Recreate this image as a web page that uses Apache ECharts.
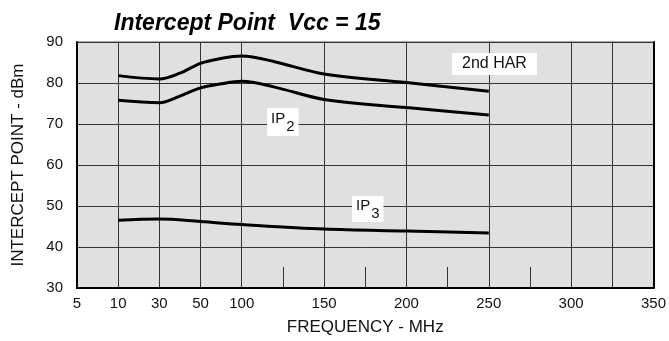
<!DOCTYPE html>
<html>
<head>
<meta charset="utf-8">
<script src="https://cdn.jsdelivr.net/npm/echarts@6/dist/echarts.min.js"></script>
<style>
  html, body { margin: 0; padding: 0; background: #fff; }
  #chart { width: 669px; height: 341px; }
</style>
</head>
<body>
<div id="chart"></div>
<script>
// axis stops: frequency (MHz) and its slot on the (non-linear) printed axis
const freqStops = [5, 10, 30, 50, 100, 150, 200, 250, 300, 350];
const slotStops = [0, 1, 2, 3, 4, 6, 8, 10, 12, 14];
const tickLabels = ['5', '10', '30', '50', '100', '', '150', '', '200', '', '250', '', '300', '', '350'];
const fullGridSlots = [1, 2, 3, 4, 6, 8, 10, 12, 13];
const shortTickSlots = [5, 7, 9, 11];

// curves (MHz, dBm)
const harFreq = [10, 30, 40, 50, 75, 100, 120, 150, 200, 250];
const har2 = [81.8, 81.0, 82.4, 84.8, 86.0, 86.6, 85.2, 82.2, 80.1, 78.0];
const ip2Freq = [10, 30, 40, 50, 75, 100, 120, 150, 200, 250];
const ip2 = [75.8, 75.2, 76.8, 78.8, 79.8, 80.4, 79.0, 76.0, 74.0, 72.2];
const ip3Freq = [10, 30, 50, 100, 150, 200, 250];
const ip3 = [46.5, 46.8, 46.2, 45.5, 44.4, 43.9, 43.4];

const FONT = "'Liberation Sans', Arial, sans-serif";

function toSlot(f) {
  for (let i = 0; i < freqStops.length - 1; i++) {
    if (f <= freqStops[i + 1]) {
      const t = (f - freqStops[i]) / (freqStops[i + 1] - freqStops[i]);
      return slotStops[i] + t * (slotStops[i + 1] - slotStops[i]);
    }
  }
  return slotStops[slotStops.length - 1];
}

function pairs(fs, vs) {
  return fs.map((f, i) => [toSlot(f), vs[i]]);
}

const chart = echarts.init(document.getElementById('chart'));

const curve = (name, fs, vs) => ({
  name: name,
  type: 'line',
  xAxisIndex: 0,
  data: pairs(fs, vs),
  smooth: 0.35,
  showSymbol: false,
  lineStyle: { color: '#000', width: 3 },
  z: 5
});

let option = {
  animation: false,
  title: {
    text: 'Intercept Point  Vcc = 15',
    left: 109,
    top: 7,
    textStyle: { fontFamily: FONT, fontSize: 23, fontWeight: 'bold', fontStyle: 'italic', color: '#000' }
  },
  grid: {
    left: 77, right: 10, top: 42, bottom: 49,
    show: true, backgroundColor: '#e0e0e0', borderColor: '#555', borderWidth: 1
  },
  xAxis: [
    {
      type: 'value',
      min: 0, max: 14, interval: 1,
      name: 'FREQUENCY - MHz',
      nameLocation: 'middle',
      nameGap: 31,
      nameTextStyle: { fontFamily: FONT, fontSize: 17, color: '#111' },
      axisLine: { lineStyle: { color: '#000', width: 2 } },
      axisTick: { show: false },
      splitLine: { show: false },
      axisLabel: {
        margin: 8,
        fontFamily: FONT, fontSize: 15, color: '#111',
        formatter: v => tickLabels[Math.round(v)] || ''
      }
    },
    {
      type: 'category',
      position: 'bottom',
      boundaryGap: false,
      data: tickLabels.map((_, i) => String(i)),
      axisLine: { show: false },
      axisLabel: { show: false },
      axisTick: {
        show: true, inside: true, length: 21,
        interval: i => shortTickSlots.includes(i),
        lineStyle: { color: '#333', width: 1 }
      },
      splitLine: {
        show: true,
        interval: i => fullGridSlots.includes(i),
        lineStyle: { color: '#333', width: 1 }
      }
    }
  ],
  yAxis: [
    {
      type: 'value',
      min: 30, max: 90, interval: 10,
      name: 'INTERCEPT POINT - dBm',
      nameLocation: 'middle',
      nameGap: 50,
      nameRotate: 90,
      nameTextStyle: { fontFamily: FONT, fontSize: 17, color: '#111' },
      axisLine: { show: true, lineStyle: { color: '#000', width: 2 } },
      axisTick: { show: false },
      axisLabel: { margin: 14, fontFamily: FONT, fontSize: 15, color: '#111' },
      splitLine: { lineStyle: { color: '#333', width: 1 } }
    },
    {
      type: 'value',
      position: 'right',
      min: 30, max: 90,
      axisLine: { show: true, lineStyle: { color: '#000', width: 2 } },
      axisTick: { show: false },
      axisLabel: { show: false },
      splitLine: { show: false }
    }
  ],
  graphic: [
    {
      type: 'text', left: 452, top: 53, z: 10,
      style: {
        text: '2nd HAR', fill: '#111', font: '16px ' + FONT,
        backgroundColor: '#fff', padding: [3, 10, 3, 10]
      }
    },
    {
      type: 'text', left: 267, top: 108, z: 10,
      style: {
        text: '{a|IP}{b|2}', backgroundColor: '#fff', padding: [3, 4, 2, 4],
        rich: {
          a: { fill: '#111', fontFamily: FONT, fontSize: 15, padding: [0, 0, 8, 0] },
          b: { fill: '#111', fontFamily: FONT, fontSize: 15, padding: [8, 0, 0, 1] }
        }
      }
    },
    {
      type: 'text', left: 352, top: 196, z: 10,
      style: {
        text: '{a|IP}{b|3}', backgroundColor: '#fff', padding: [2, 4, 1, 4],
        rich: {
          a: { fill: '#111', fontFamily: FONT, fontSize: 15, padding: [0, 0, 8, 0] },
          b: { fill: '#111', fontFamily: FONT, fontSize: 15, padding: [8, 0, 0, 1] }
        }
      }
    }
  ],
  series: [
    curve('2nd HAR', harFreq, har2),
    curve('IP2', ip2Freq, ip2),
    curve('IP3', ip3Freq, ip3)
  ]
};

chart.setOption(option);
</script>
</body>
</html>
